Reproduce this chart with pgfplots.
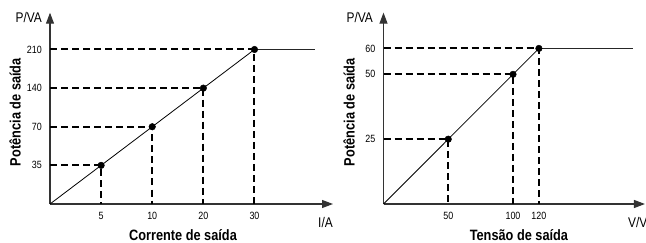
\documentclass[border=0pt]{standalone}
\usepackage{fontspec}
\setmainfont{Liberation Sans}[FakeStretch=0.85]
\usepackage{pgfplots}
\pgfplotsset{compat=1.18}
\usetikzlibrary{arrows.meta}

\pgfplotsset{
  myax/.style={
    axis lines=left,
    axis line style={draw=black!80, line width=1.1bp, -{Triangle[length=11bp,width=8bp]}},
    scale only axis,
    anchor=south west,
    clip=false,
    major tick length=0pt,
    tick style={draw=none},
    tick label style={font=\fontsize{10.5bp}{12bp}\selectfont},
    /pgf/number format/assume math mode=true,
    xticklabel style={yshift=-5bp},
    yticklabel style={xshift=-4.7bp},
  },
}
\tikzset{
  dashln/.style={black, line width=2bp, dash pattern=on 7bp off 4bp},
  diag/.style={black, line width=0.8bp},
  flat/.style={black!85, line width=0.9bp},
  pts/.style={mark=*, mark size=3.3bp, mark options={fill=black, draw=black}},
  lbl/.style={font=\fontsize{14bp}{16bp}\selectfont, inner sep=0pt},
  blbl/.style={font=\bfseries\fontsize{15bp}{18bp}\selectfont, inner sep=0pt},
}

\begin{document}
\begin{tikzpicture}
\useasboundingbox (0bp,0bp) rectangle (646bp,243bp);

% Left panel (categories at equal spacing)
\begin{axis}[myax,
  at={(50bp,39bp)},
  x=51.12bp, y=38.63bp,
  xmin=0, xmax=5.536, ymin=0, ymax=4.952,
  xtick={1,2,3,4}, xticklabels={5,10,20,30},
  ytick={1,2,3,4}, yticklabels={35,70,140,210},
]
\addplot[dashln] coordinates {(0,1)(1,1)(1,0)};
\addplot[dashln] coordinates {(0,2)(2,2)(2,0)};
\addplot[dashln] coordinates {(0,3)(3,3)(3,0)};
\addplot[dashln] coordinates {(0,4)(4,4)(4,0)};
\addplot[diag] coordinates {(0,0)(4,4)};
\addplot[flat] coordinates {(4,4)(5.18,4)};
\addplot[only marks, pts] coordinates {(1,1)(2,2)(3,3)(4,4)};
\node[lbl, anchor=east] at (rel axis cs:0,1) [xshift=-8bp, yshift=-5bp] {P/VA};
\node[lbl, anchor=west] at (rel axis cs:1,0) [xshift=-15bp, yshift=-18bp] {I/A};
\node[blbl, rotate=90] at (rel axis cs:-0.1237,0.48) {Potência de saída};
\node[blbl] at (rel axis cs:0.47,0) [yshift=-31.5bp] {Corrente de saída};
\end{axis}

% Right panel
\begin{axis}[myax,
  at={(383.5bp,39bp)},
  x=1.295bp, y=2.593bp,
  xmin=0, xmax=201.9, ymin=0, ymax=73.8,
  xtick={50,100,120},
  ytick={25,50,60},
]
\addplot[dashln] coordinates {(0,25)(50,25)(50,0)};
\addplot[dashln] coordinates {(0,50)(100,50)(100,0)};
\addplot[dashln] coordinates {(0,60)(120,60)(120,0)};
\addplot[diag] coordinates {(0,0)(120,60)};
\addplot[flat] coordinates {(120,60)(192.4,60)};
\addplot[only marks, pts] coordinates {(50,25)(100,50)(120,60)};
\node[lbl, anchor=east] at (rel axis cs:0,1) [xshift=-10.5bp, yshift=-5bp] {P/VA};
\node[lbl, anchor=west] at (rel axis cs:1,0) [xshift=-17bp, yshift=-18bp] {V/V};
\node[blbl, rotate=90] at (rel axis cs:-0.132,0.48) {Potência de saída};
\node[blbl] at (rel axis cs:0.518,0) [yshift=-31.5bp] {Tensão de saída};
\end{axis}
\end{tikzpicture}
\end{document}
